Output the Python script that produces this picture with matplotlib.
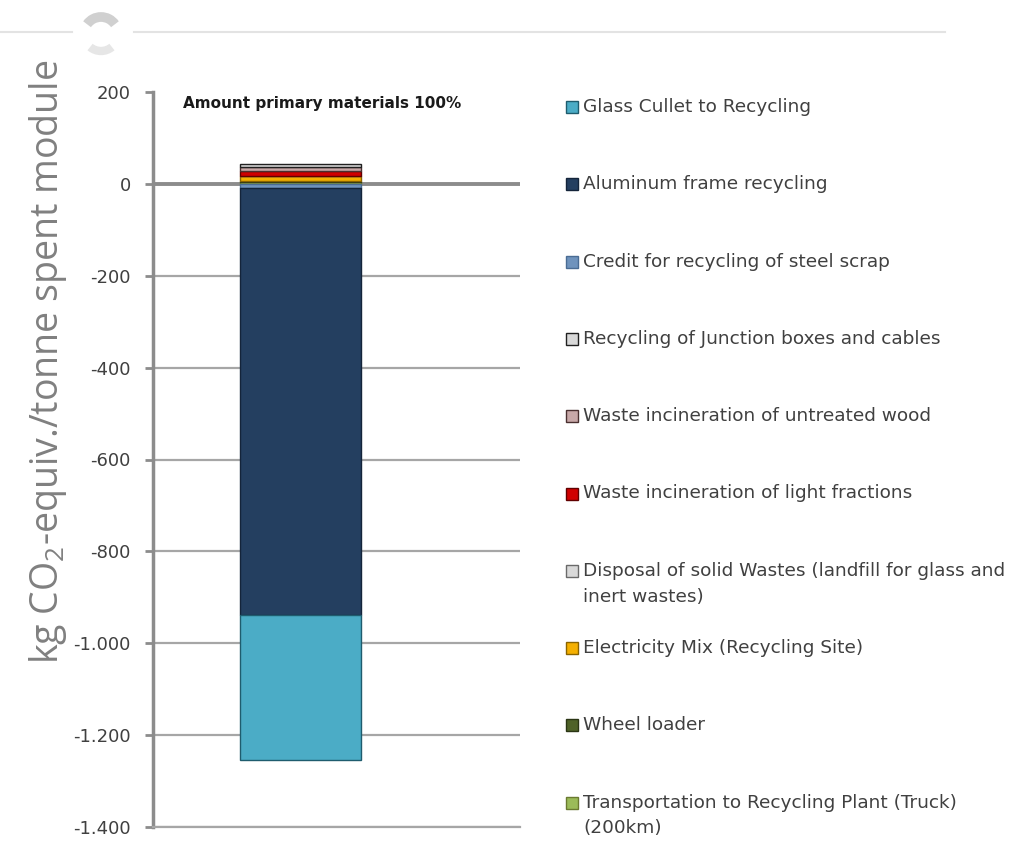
import matplotlib
matplotlib.use("Agg")
import matplotlib.pyplot as plt
from matplotlib.patches import Rectangle, Arc
from matplotlib.lines import Line2D

# ---------------- data ----------------
series = [
    "Glass Cullet to Recycling",
    "Aluminum frame recycling",
    "Credit for recycling of steel scrap",
    "Recycling of Junction boxes and cables",
    "Waste incineration of untreated wood",
    "Waste incineration of light fractions",
    "Disposal of solid Wastes (landfill for glass and\ninert wastes)",
    "Electricity Mix (Recycling Site)",
    "Wheel loader",
    "Transportation to Recycling Plant (Truck)\n(200km)",
]
values = [-317, -929, -9, 6, 10, 9, 1, 11, 1, 5]
colors = ["#4BACC6", "#243F60", "#6F93BD", "#D9D9D9", "#C8A8A8",
          "#D00000", "#D9D9D9", "#F5B000", "#4F6228", "#9BBB59"]
edges = ["#1F5C6E", "#14243A", "#4A6C94", "#202020", "#4A3030",
         "#600000", "#6A6A6A", "#8A6400", "#2A3514", "#6A7A30"]
category = "Amount primary materials 100%"
yticks = [200, 0, -200, -400, -600, -800, -1000, -1200, -1400]
ytick_labels = ["200", "0", "-200", "-400", "-600", "-800", "-1.000", "-1.200", "-1.400"]
ylabel = "kg CO$_2$-equiv./tonne spent module"

# ---------------- figure ----------------
W, H = 1031, 842
fig = plt.figure(figsize=(W / 100, H / 100), dpi=100)
plt.rcParams["mathtext.fontset"] = "custom"
plt.rcParams["mathtext.rm"] = "Open Sans"
plt.rcParams["mathtext.it"] = "Open Sans"

ax = fig.add_axes([153 / W, 1 - 827 / H, (520 - 153) / W, (827 - 92) / H])
ax.set_xlim(0, 1)
ax.set_ylim(-1400, 200)

# gridlines
for t in yticks[1:]:
    if t == 0:
        continue
    ax.axhline(t, color="#A6A6A6", lw=1.6, zorder=0)
ax.axhline(0, color="#8C8C8C", lw=2.8, zorder=0.5)

# stacked bar: negatives and positives stacked from zero in reverse legend order
xpos, bw = 0.402, 0.33
pos_base, neg_base = 0.0, 0.0
for i in reversed(range(len(series))):
    v = values[i]
    if v >= 0:
        ax.bar(xpos, v, bw, bottom=pos_base, color=colors[i], edgecolor=edges[i],
               linewidth=1.0, zorder=2)
        pos_base += v
    else:
        ax.bar(xpos, v, bw, bottom=neg_base, color=colors[i], edgecolor=edges[i],
               linewidth=1.0, zorder=2)
        neg_base += v

ax.set_yticks(yticks)
ax.set_yticklabels(ytick_labels, fontsize=13, color="#404040")
ax.tick_params(axis="y", length=6, width=2, color="#8C8C8C", pad=10)
ax.set_xticks([])
for s in ["top", "right"]:
    ax.spines[s].set_visible(False)
ax.spines["left"].set_color("#8C8C8C")
ax.spines["left"].set_linewidth(2.5)
ax.spines["bottom"].set_color("#A6A6A6")
ax.spines["bottom"].set_linewidth(1.6)

ax.text(0.083, 0.995, category, transform=ax.transAxes, ha="left", va="top",
        fontsize=11, fontweight="bold", color="#1A1A1A", family="DejaVu Sans")

fig.text(48 / W, 1 - 362 / H, ylabel, rotation=90, ha="center", va="center",
         fontsize=27, color="#808080", family="Open Sans")

# overlay axes in figure pixel coordinates
ov = fig.add_axes([0, 0, 1, 1], zorder=-1)
ov.set_xlim(0, W)
ov.set_ylim(H, 0)
ov.axis("off")
ov.patch.set_alpha(0)

leg = fig.add_axes([0, 0, 1, 1], zorder=5)
leg.set_xlim(0, W)
leg.set_ylim(H, 0)
leg.axis("off")
leg.patch.set_alpha(0)
y0, dy = 107, 77.3
for i, name in enumerate(series):
    y = y0 + i * dy
    leg.add_patch(Rectangle((566, y - 6), 12, 12, facecolor=colors[i],
                            edgecolor=edges[i], linewidth=1.0))
    leg.text(583, y - 9, name, ha="left", va="top", fontsize=13.3,
             color="#404040", family="DejaVu Sans", linespacing=1.55)

# page decoration at top
ov.add_line(Line2D([0, 72], [32, 32], color="#E3E3E3", lw=1.5))
ov.add_line(Line2D([134, 945], [32, 32], color="#E3E3E3", lw=1.5))
ov.add_patch(Arc((101, 34), 34, 34, theta1=215, theta2=325, color="#D0D0D0", lw=7))
ov.add_patch(Arc((101, 34), 34, 34, theta1=50, theta2=130, color="#E6E6E6", lw=6))

fig.savefig("out.png", dpi=100, facecolor="white")
